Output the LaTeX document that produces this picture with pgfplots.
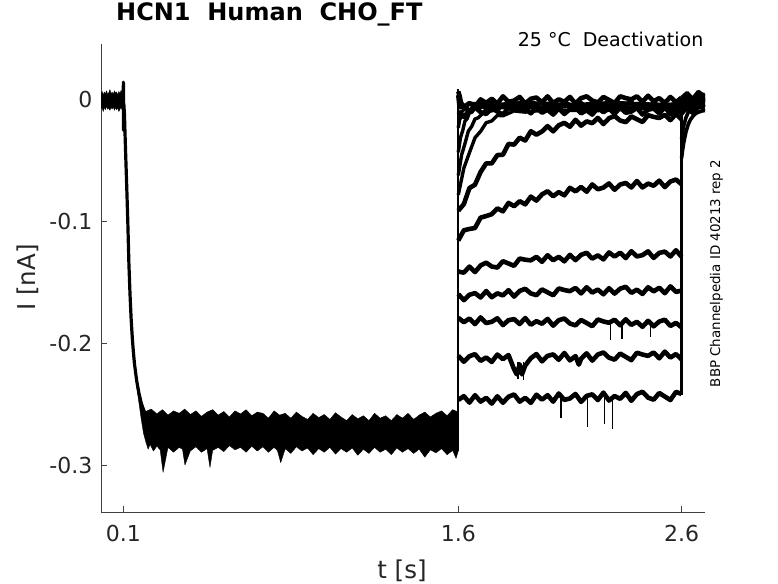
\documentclass[border=0pt]{standalone}
\usepackage{fontspec}
\setmainfont{DejaVu Sans}
\usepackage{pgfplots}
\pgfplotsset{compat=1.18}
\pgfplotsset{
  tr/.style={black, line width=4.6pt, line join=round, mark=none},
  fa/.style={black, line width=3.4pt, line join=round, mark=none},
  tl/.style={black, line width=3.6pt, line join=round, mark=none},
  sp/.style={black, line width=1.3pt, mark=none},
  band/.style={black, fill=black, line width=0.4pt, line join=round, mark=none},
}
\begin{document}
\begin{tikzpicture}
\useasboundingbox (0,0) rectangle (778pt,583pt);
\begin{axis}[
  at={(101pt,71pt)}, anchor=south west,
  scale only axis, width=604pt, height=468pt,
  xmin=0, xmax=2.705, ymin=-0.3386, ymax=0.046,
  axis x line*=bottom, axis y line*=left,
  axis line style={black!75, line width=0.6pt},
  tick align=inside, major tick length=6pt,
  tick style={black!75, line width=0.6pt},
  xtick={0.1,1.6,2.6}, xticklabels={0.1,1.6,2.6},
  ytick={-0.3,-0.2,-0.1,0}, yticklabels={-0.3,-0.2,-0.1,0},
  tick label style={font=\fontsize{22}{26}\selectfont, text=black!85},
  xticklabel style={anchor=north, inner sep=0pt, yshift=-13pt},
  yticklabel style={anchor=east, inner sep=0pt, xshift=-8.5pt},
  xlabel={t [s]}, ylabel={I [nA]},
  label style={font=\fontsize{24.5}{28}\selectfont, text=black!85},
  xlabel style={at={(axis description cs:0.4983,-0.14103)}, anchor=base, inner sep=0pt},
  ylabel style={at={(axis description cs:-0.10828,0.50107)}, anchor=base, inner sep=0pt},
  title={HCN1~~Human~~CHO\_FT},
  title style={at={(axis description cs:0.02483,1.03697)}, anchor=base west, inner sep=0pt, font=\bfseries\fontsize{24}{28}\selectfont},
]
% baseline band 0 - 0.1 s
\addplot[band] coordinates {(0,0.005)(0.005,0.007)(0.01,0.004)(0.015,0.0065)(0.02,0.005)(0.025,0.0075)(0.03,0.0045)(0.035,0.006)(0.04,0.0085)(0.045,0.005)(0.05,0.0065)(0.055,0.0045)(0.06,0.0075)(0.065,0.0055)(0.07,0.0065)(0.075,0.004)(0.08,0.007)(0.085,0.005)(0.09,0.008)(0.095,0.0055)(0.0995,0.006)(0.0995,-0.0065)(0.095,-0.0085)(0.09,-0.006)(0.085,-0.0075)(0.08,-0.0095)(0.075,-0.0065)(0.07,-0.008)(0.065,-0.006)(0.06,-0.0085)(0.055,-0.0055)(0.05,-0.0075)(0.045,-0.006)(0.04,-0.0085)(0.035,-0.0065)(0.03,-0.0075)(0.025,-0.005)(0.02,-0.008)(0.015,-0.006)(0.01,-0.0095)(0.005,-0.0065)(0,-0.007)} -- cycle;
% activation
\addplot[black, line width=3.2pt, line join=round] coordinates {(0.097,0.002)(0.0995,0.004)(0.1003,0.0146)(0.1012,-0.025)(0.1022,-0.003)(0.105,-0.012)(0.110,-0.042)(0.115,-0.070)(0.120,-0.100)(0.125,-0.135)(0.130,-0.160)(0.135,-0.180)(0.140,-0.195)(0.145,-0.207)(0.150,-0.217)(0.160,-0.231)(0.170,-0.241)(0.180,-0.249)(0.190,-0.255)(0.200,-0.259)(0.215,-0.262)};
% activated band 0.16 - 1.6 s
\addplot[band] coordinates {(0.16,-0.229)(0.17,-0.238)(0.18,-0.2465)(0.19,-0.2515)(0.2,-0.256)(0.225,-0.254)(0.25,-0.258)(0.275,-0.2545)(0.3,-0.259)(0.325,-0.2555)(0.35,-0.2575)(0.375,-0.254)(0.4,-0.2585)(0.425,-0.2555)(0.45,-0.26)(0.475,-0.2565)(0.5,-0.2545)(0.525,-0.259)(0.55,-0.256)(0.575,-0.2605)(0.6,-0.2555)(0.625,-0.258)(0.65,-0.2545)(0.675,-0.2595)(0.7,-0.2565)(0.725,-0.2575)(0.75,-0.2615)(0.775,-0.2555)(0.8,-0.259)(0.825,-0.2575)(0.85,-0.2615)(0.875,-0.2565)(0.9,-0.26)(0.925,-0.2625)(0.95,-0.2575)(0.975,-0.261)(1.0,-0.2585)(1.025,-0.2625)(1.05,-0.257)(1.075,-0.2605)(1.1,-0.2635)(1.125,-0.2585)(1.15,-0.262)(1.175,-0.2595)(1.2,-0.2635)(1.225,-0.2575)(1.25,-0.2615)(1.275,-0.2595)(1.3,-0.2635)(1.325,-0.2585)(1.35,-0.2615)(1.375,-0.2575)(1.4,-0.2625)(1.425,-0.259)(1.45,-0.2565)(1.475,-0.2605)(1.5,-0.2575)(1.525,-0.2555)(1.55,-0.2595)(1.575,-0.2545)(1.6,-0.2565)(1.6,-0.2885)(1.59,-0.2945)(1.575,-0.288)(1.55,-0.2915)(1.525,-0.2865)(1.5,-0.29)(1.475,-0.2875)(1.45,-0.2935)(1.425,-0.287)(1.4,-0.2905)(1.375,-0.2865)(1.35,-0.2895)(1.325,-0.286)(1.3,-0.2915)(1.275,-0.287)(1.25,-0.2895)(1.225,-0.2855)(1.2,-0.2905)(1.175,-0.287)(1.15,-0.292)(1.125,-0.286)(1.1,-0.2895)(1.075,-0.2865)(1.05,-0.291)(1.025,-0.2855)(1.0,-0.2895)(0.975,-0.2865)(0.95,-0.2915)(0.925,-0.286)(0.9,-0.2885)(0.875,-0.285)(0.85,-0.2905)(0.825,-0.2865)(0.805,-0.298)(0.79,-0.288)(0.775,-0.2855)(0.75,-0.2895)(0.725,-0.285)(0.7,-0.2885)(0.675,-0.2845)(0.65,-0.2895)(0.625,-0.2855)(0.6,-0.2875)(0.575,-0.284)(0.55,-0.289)(0.525,-0.2855)(0.5,-0.288)(0.488,-0.302)(0.475,-0.2865)(0.45,-0.2895)(0.425,-0.285)(0.4,-0.2885)(0.376,-0.300)(0.365,-0.287)(0.35,-0.2855)(0.325,-0.2895)(0.3,-0.2855)(0.278,-0.306)(0.265,-0.2875)(0.25,-0.2845)(0.235,-0.2885)(0.22,-0.283)(0.211,-0.287)(0.2,-0.2805)(0.19,-0.2735)(0.18,-0.262)(0.17,-0.249)(0.16,-0.236)} -- cycle;
% voltage-step jumps at 1.6 s and 2.6 s
\addplot[black, line width=2.2pt] coordinates {(1.6,-0.2885)(1.6,0.009)};
\addplot[black, line width=2.2pt] coordinates {(2.6,-0.2425)(2.6,0.002)};
% deactivation sweeps (1.6 - 2.6 s)
\addplot[tr] coordinates {(1.6,-0.2465)(1.625,-0.2434)(1.65,-0.2487)(1.675,-0.2426)(1.7,-0.2479)(1.725,-0.2448)(1.75,-0.2495)(1.775,-0.2435)(1.8,-0.2488)(1.825,-0.2439)(1.85,-0.2420)(1.875,-0.2479)(1.9,-0.2448)(1.925,-0.2489)(1.95,-0.2422)(1.975,-0.2463)(2.0,-0.2426)(2.025,-0.2479)(2.05,-0.2412)(2.075,-0.2465)(2.1,-0.2453)(2.125,-0.2416)(2.15,-0.2481)(2.175,-0.2432)(2.2,-0.2419)(2.225,-0.2466)(2.25,-0.2405)(2.275,-0.2470)(2.3,-0.2433)(2.325,-0.2456)(2.35,-0.2407)(2.375,-0.2472)(2.4,-0.2417)(2.425,-0.2398)(2.45,-0.2446)(2.475,-0.2463)(2.5,-0.2408)(2.525,-0.2437)(2.55,-0.2466)(2.575,-0.2399)(2.6,-0.2416)};
\addplot[sp] coordinates {(2.06,-0.245)(2.06,-0.2617)};
\addplot[sp] coordinates {(2.18,-0.245)(2.18,-0.2690)};
\addplot[sp] coordinates {(2.255,-0.245)(2.255,-0.2660)};
\addplot[sp] coordinates {(2.29,-0.245)(2.29,-0.2700)};
\addplot[tr] coordinates {(1.6,-0.2102)(1.625,-0.2151)(1.65,-0.2106)(1.675,-0.2089)(1.7,-0.2144)(1.725,-0.2116)(1.75,-0.2153)(1.775,-0.2092)(1.8,-0.2130)(1.825,-0.2096)(1.85,-0.2213)(1.862,-0.2255)(1.875,-0.2172)(1.885,-0.2255)(1.9,-0.2182)(1.925,-0.2122)(1.95,-0.2088)(1.975,-0.2148)(2.0,-0.2103)(2.025,-0.2091)(2.05,-0.2135)(2.075,-0.2079)(2.1,-0.2140)(2.125,-0.2105)(2.14,-0.2175)(2.15,-0.2127)(2.175,-0.2082)(2.2,-0.2142)(2.225,-0.2092)(2.25,-0.2075)(2.275,-0.2118)(2.3,-0.2134)(2.325,-0.2084)(2.35,-0.2111)(2.375,-0.2138)(2.4,-0.2077)(2.425,-0.2092)(2.45,-0.2103)(2.475,-0.2075)(2.5,-0.2123)(2.525,-0.2068)(2.55,-0.2117)(2.575,-0.2088)(2.6,-0.2132)};
\addplot[sp] coordinates {(1.868,-0.215)(1.868,-0.2290)};
\addplot[sp] coordinates {(1.892,-0.215)(1.892,-0.2300)};
\addplot[tr] coordinates {(1.6,-0.1790)(1.625,-0.1826)(1.65,-0.1796)(1.675,-0.1842)(1.7,-0.1787)(1.725,-0.1833)(1.75,-0.1823)(1.775,-0.1794)(1.8,-0.1850)(1.825,-0.1810)(1.85,-0.1801)(1.875,-0.1841)(1.9,-0.1792)(1.925,-0.1847)(1.95,-0.1818)(1.975,-0.1839)(2.0,-0.1799)(2.025,-0.1855)(2.05,-0.1810)(2.075,-0.1796)(2.1,-0.1837)(2.125,-0.1852)(2.15,-0.1808)(2.175,-0.1833)(2.2,-0.1859)(2.225,-0.1804)(2.25,-0.1820)(2.275,-0.1831)(2.3,-0.1806)(2.325,-0.1852)(2.35,-0.1802)(2.375,-0.1848)(2.4,-0.1823)(2.425,-0.1864)(2.45,-0.1815)(2.475,-0.1860)(2.5,-0.1821)(2.525,-0.1806)(2.55,-0.1857)(2.575,-0.1832)(2.6,-0.1868)};
\addplot[sp] coordinates {(2.281,-0.183)(2.281,-0.1975)};
\addplot[sp] coordinates {(2.333,-0.183)(2.333,-0.1965)};
\addplot[sp] coordinates {(2.46,-0.183)(2.46,-0.1950)};
\addplot[tr] coordinates {(1.6,-0.1595)(1.625,-0.1645)(1.65,-0.1601)(1.675,-0.1587)(1.7,-0.1623)(1.725,-0.1570)(1.75,-0.1621)(1.775,-0.1589)(1.8,-0.1606)(1.825,-0.1563)(1.85,-0.1616)(1.875,-0.1569)(1.9,-0.1552)(1.925,-0.1590)(1.95,-0.1604)(1.975,-0.1557)(2.0,-0.1581)(2.025,-0.1605)(2.05,-0.1549)(2.075,-0.1562)(2.1,-0.1571)(2.125,-0.1545)(2.15,-0.1590)(2.175,-0.1539)(2.2,-0.1583)(2.225,-0.1558)(2.25,-0.1597)(2.275,-0.1547)(2.3,-0.1591)(2.325,-0.1551)(2.35,-0.1535)(2.375,-0.1585)(2.4,-0.1559)(2.425,-0.1594)(2.45,-0.1539)(2.475,-0.1573)(2.5,-0.1543)(2.525,-0.1588)(2.55,-0.1532)(2.575,-0.1577)(2.6,-0.1567)};
\addplot[tr] coordinates {(1.6,-0.1410)(1.625,-0.1419)(1.65,-0.1369)(1.675,-0.1414)(1.7,-0.1360)(1.725,-0.1337)(1.75,-0.1369)(1.775,-0.1377)(1.8,-0.1325)(1.825,-0.1344)(1.85,-0.1363)(1.875,-0.1303)(1.9,-0.1313)(1.925,-0.1318)(1.95,-0.1289)(1.975,-0.1330)(2.0,-0.1276)(2.025,-0.1317)(2.05,-0.1289)(2.075,-0.1326)(2.1,-0.1273)(2.125,-0.1316)(2.15,-0.1273)(2.175,-0.1256)(2.2,-0.1304)(2.225,-0.1277)(2.25,-0.1310)(2.275,-0.1253)(2.3,-0.1287)(2.325,-0.1255)(2.35,-0.1299)(2.375,-0.1243)(2.4,-0.1286)(2.425,-0.1275)(2.45,-0.1244)(2.475,-0.1298)(2.5,-0.1257)(2.525,-0.1246)(2.55,-0.1286)(2.575,-0.1235)(2.6,-0.1289)};
\addplot[tr] coordinates {(1.6,-0.1155)(1.625,-0.1071)(1.65,-0.1060)(1.675,-0.1052)(1.7,-0.0967)(1.725,-0.0954)(1.75,-0.0939)(1.775,-0.0891)(1.8,-0.0915)(1.825,-0.0846)(1.85,-0.0873)(1.875,-0.0832)(1.9,-0.0858)(1.925,-0.0794)(1.95,-0.0827)(1.975,-0.0776)(2.0,-0.0750)(2.025,-0.0791)(2.05,-0.0757)(2.075,-0.0784)(2.1,-0.0722)(2.125,-0.0751)(2.15,-0.0715)(2.175,-0.0754)(2.2,-0.0694)(2.225,-0.0734)(2.25,-0.0720)(2.275,-0.0686)(2.3,-0.0738)(2.325,-0.0695)(2.35,-0.0682)(2.375,-0.0719)(2.4,-0.0666)(2.425,-0.0719)(2.45,-0.0687)(2.475,-0.0705)(2.5,-0.0663)(2.525,-0.0716)(2.55,-0.0670)(2.575,-0.0654)(2.6,-0.0693)};
\addplot[tr] coordinates {(1.6,-0.0910)(1.625,-0.0856)(1.65,-0.0724)(1.675,-0.0696)(1.7,-0.0592)(1.725,-0.0521)(1.75,-0.0521)(1.775,-0.0453)(1.8,-0.0450)(1.825,-0.0361)(1.85,-0.0367)(1.875,-0.0310)(1.9,-0.0333)(1.925,-0.0257)(1.95,-0.0285)(1.975,-0.0259)(2.0,-0.0215)(2.025,-0.0258)(2.05,-0.0208)(2.075,-0.0188)(2.1,-0.0220)(2.125,-0.0163)(2.15,-0.0211)(2.175,-0.0176)(2.2,-0.0191)(2.225,-0.0147)(2.25,-0.0198)(2.275,-0.0150)(2.3,-0.0132)(2.325,-0.0169)(2.35,-0.0182)(2.375,-0.0135)(2.4,-0.0158)(2.425,-0.0181)(2.45,-0.0125)(2.475,-0.0139)(2.5,-0.0148)(2.525,-0.0122)(2.55,-0.0166)(2.575,-0.0115)(2.6,-0.0160)};
\addplot[fa] coordinates {(1.6,-0.078)(1.625,-0.0560)(1.65,-0.0433)(1.675,-0.0310)(1.7,-0.0258)(1.725,-0.0187)(1.75,-0.0172)(1.775,-0.0127)(1.8,-0.0130)(1.85,-0.0090)(1.9,-0.0100)(2.0,-0.008)(2.2,-0.009)(2.4,-0.007)(2.6,-0.008)};
\addplot[fa] coordinates {(1.6,-0.062)(1.615,-0.0451)(1.63,-0.0358)(1.645,-0.0256)(1.66,-0.0218)(1.675,-0.0156)(1.69,-0.0146)(1.72,-0.0089)(1.75,-0.0090)(1.78,-0.0060)(1.85,-0.007)(2.05,-0.005)(2.25,-0.007)(2.45,-0.005)(2.6,-0.006)};
\addplot[fa] coordinates {(1.6,-0.043)(1.61,-0.0309)(1.62,-0.0250)(1.63,-0.0173)(1.64,-0.0153)(1.65,-0.0104)(1.66,-0.0103)(1.68,-0.0057)(1.7,-0.0064)(1.72,-0.0037)(1.8,-0.005)(2.0,-0.003)(2.2,-0.005)(2.4,-0.003)(2.6,-0.004)};
\addplot[fa] coordinates {(1.6,-0.023)(1.605,-0.0173)(1.61,-0.0143)(1.615,-0.0094)(1.62,-0.0093)(1.63,-0.0047)(1.64,-0.0054)(1.65,-0.0027)(1.75,-0.004)(1.9,-0.002)(2.1,-0.004)(2.3,-0.002)(2.5,-0.004)(2.6,-0.003)};
\addplot[tr] coordinates {(1.6,-0.0095)(1.625,-0.0140)(1.65,-0.0085)(1.675,-0.0060)(1.7,-0.0100)(1.725,-0.0115)(1.75,-0.0070)(1.775,-0.0095)(1.8,-0.0120)(1.825,-0.0065)(1.85,-0.0080)(1.875,-0.0090)(1.9,-0.0065)(1.925,-0.0110)(1.95,-0.0060)(1.975,-0.0105)(2.0,-0.0080)(2.025,-0.0120)(2.05,-0.0070)(2.075,-0.0115)(2.1,-0.0075)(2.125,-0.0060)(2.15,-0.0110)(2.175,-0.0085)(2.2,-0.0120)(2.225,-0.0065)(2.25,-0.0100)(2.275,-0.0070)(2.3,-0.0115)(2.325,-0.0060)(2.35,-0.0105)(2.375,-0.0095)(2.4,-0.0065)(2.425,-0.0120)(2.45,-0.0080)(2.475,-0.0070)(2.5,-0.0110)(2.525,-0.0060)(2.55,-0.0115)(2.575,-0.0085)(2.6,-0.0105)};
\addplot[tr] coordinates {(1.6,0.004)(1.606,-0.006)(1.625,-0.0045)(1.65,-0.0100)(1.675,-0.0050)(1.7,-0.0035)(1.725,-0.0070)(1.75,-0.0020)(1.775,-0.0075)(1.8,-0.0045)(1.825,-0.0065)(1.85,-0.0025)(1.875,-0.0080)(1.9,-0.0035)(1.925,-0.0020)(1.95,-0.0060)(1.975,-0.0075)(2.0,-0.0030)(2.025,-0.0055)(2.05,-0.0080)(2.075,-0.0025)(2.1,-0.0040)(2.125,-0.0050)(2.15,-0.0025)(2.175,-0.0070)(2.2,-0.0020)(2.225,-0.0065)(2.25,-0.0040)(2.275,-0.0080)(2.3,-0.0030)(2.325,-0.0075)(2.35,-0.0035)(2.375,-0.0020)(2.4,-0.0070)(2.425,-0.0045)(2.45,-0.0080)(2.475,-0.0025)(2.5,-0.0060)(2.525,-0.0030)(2.55,-0.0075)(2.575,-0.0020)(2.6,-0.0065)};
\addplot[tr] coordinates {(1.6,0.007)(1.605,0.004)(1.612,-0.002)(1.625,-0.0060)(1.65,-0.0025)(1.675,-0.0055)(1.7,0.0005)(1.725,-0.0025)(1.75,0.0010)(1.775,-0.0030)(1.8,0.0030)(1.825,-0.0015)(1.85,-0.0005)(1.875,0.0025)(1.9,-0.0030)(1.925,0.0010)(1.95,0.0020)(1.975,-0.0020)(2.0,0.0030)(2.025,-0.0025)(2.05,0.0005)(2.075,-0.0015)(2.1,0.0025)(2.125,-0.0030)(2.15,0.0015)(2.175,0.0030)(2.2,-0.0005)(2.225,-0.0020)(2.25,0.0025)(2.275,0.0000)(2.3,-0.0025)(2.325,0.0030)(2.35,0.0015)(2.375,0.0005)(2.4,0.0030)(2.425,-0.0015)(2.45,0.0035)(2.475,-0.0010)(2.5,0.0015)(2.525,-0.0025)(2.55,0.0025)(2.575,-0.0020)(2.6,0.0020)};
% tails after 2.6 s
\addplot[tl] coordinates {(2.6,-0.032)(2.605,-0.0258)(2.61,-0.021)(2.62,-0.0143)(2.63,-0.0102)(2.645,-0.007)(2.66,-0.0054)(2.68,-0.0045)(2.705,-0.0042)};
\addplot[tl] coordinates {(2.6,-0.048)(2.605,-0.0407)(2.61,-0.0348)(2.62,-0.026)(2.63,-0.020)(2.64,-0.0161)(2.655,-0.0124)(2.67,-0.0104)(2.69,-0.0091)(2.705,-0.0086)};
\addplot[tl] coordinates {(2.6,-0.002)(2.625,0.004)(2.655,-0.002)(2.68,0.005)(2.705,0.001)};
\addplot[tl] coordinates {(2.6,-0.012)(2.62,-0.007)(2.65,-0.011)(2.68,-0.005)(2.705,-0.009)};
\addplot[tl] coordinates {(2.6,-0.004)(2.63,0.003)(2.66,-0.003)(2.69,0.004)(2.705,0.000)};
\addplot[tl] coordinates {(2.6,-0.010)(2.615,-0.004)(2.64,-0.009)(2.67,-0.002)(2.705,-0.006)};
\addplot[tl] coordinates {(2.6,-0.006)(2.62,-0.001)(2.65,-0.006)(2.68,0.002)(2.705,-0.003)};
\addplot[tl] coordinates {(2.6,-0.008)(2.63,-0.002)(2.67,0.005)(2.705,-0.002)};
\addplot[tl] coordinates {(2.6,-0.006)(2.62,0.003)(2.66,-0.004)(2.705,0.001)};
\addplot[tl] coordinates {(2.6,-0.004)(2.63,-0.006)(2.67,0.000)(2.705,-0.005)};
\addplot[tl] coordinates {(2.6,-0.003)(2.63,0.004)(2.66,-0.001)(2.705,0.005)};
\addplot[tl] coordinates {(2.6,-0.0105)(2.62,-0.008)(2.645,-0.003)(2.67,-0.007)(2.705,-0.004)};
\addplot[tl] coordinates {(2.6,-0.0065)(2.625,-0.004)(2.65,0.002)(2.675,-0.003)(2.705,0.001)};
\addplot[tl] coordinates {(2.6,0.0020)(2.625,0.006)(2.65,0.001)(2.675,0.007)(2.705,0.003)};
\end{axis}
\node[anchor=base east, inner sep=0pt, font=\fontsize{19}{22}\selectfont] at (703.5pt,536pt) {25 °C~~Deactivation};
\node[rotate=90, anchor=base, inner sep=0pt, font=\fontsize{13.4}{16}\selectfont] at (720pt,309.6pt) {BBP Channelpedia ID 40213 rep 2};
\end{tikzpicture}
\end{document}
